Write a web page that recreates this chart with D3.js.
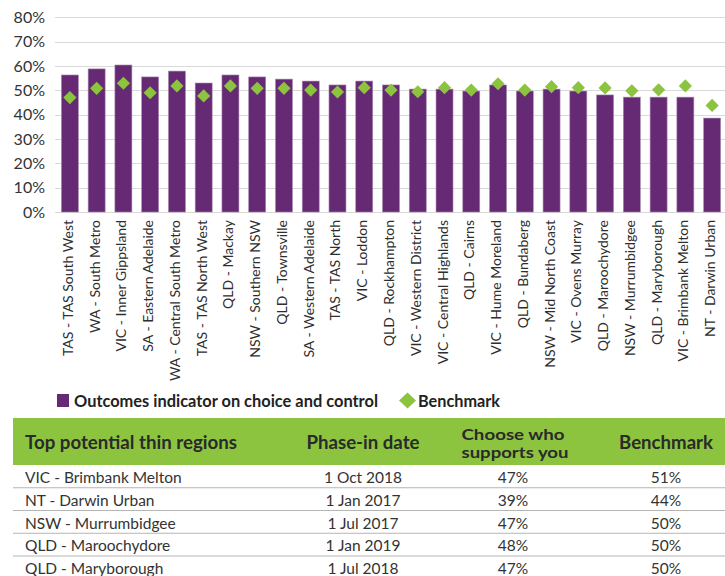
<!DOCTYPE html>
<html>
<head>
<meta charset="utf-8">
<script src="https://cdn.jsdelivr.net/npm/d3@7"></script>
<style>
  html, body { margin: 0; padding: 0; background: #fff; }
  svg { display: block; }
  text { font-family: Lato, "Open Sans", sans-serif; }
</style>
</head>
<body>
<svg id="chart" width="725" height="576"></svg>
<script>
// ---------- DATA ----------
const categories = [
  "TAS - TAS South West", "WA - South Metro", "VIC - Inner Gippsland", "SA - Eastern Adelaide",
  "WA - Central South Metro", "TAS - TAS North West", "QLD - Mackay", "NSW - Southern NSW",
  "QLD - Townsville", "SA - Western Adelaide", "TAS - TAS North", "VIC - Loddon",
  "QLD - Rockhampton", "VIC - Western District", "VIC - Central Highlands", "QLD - Cairns",
  "VIC - Hume Moreland", "QLD - Bundaberg", "NSW - Mid North Coast", "VIC - Ovens Murray",
  "QLD - Maroochydore", "NSW - Murrumbidgee", "QLD - Maryborough", "VIC - Brimbank Melton",
  "NT - Darwin Urban"
];
const indicator = [56.3, 58.8, 60.4, 55.5, 57.9, 53.0, 56.3, 55.5, 54.6, 53.8, 52.2, 53.8, 52.2,
  50.5, 50.5, 49.7, 52.2, 49.7, 50.5, 49.7, 48.1, 47.2, 47.2, 47.2, 38.6];
const benchmark = [47.0, 50.8, 52.9, 49.0, 51.8, 47.7, 51.8, 50.8, 50.8, 50.1, 49.3, 51.1, 50.1,
  49.4, 51.1, 50.1, 52.7, 50.1, 51.5, 51.1, 51.0, 49.8, 50.2, 51.8, 43.8];
const yTicks = [0, 10, 20, 30, 40, 50, 60, 70, 80];

const legendLabels = ["Outcomes indicator on choice and control", "Benchmark"];

const tableHeaders = ["Top potential thin regions", "Phase-in date", "Choose who|supports you", "Benchmark"];
const tableRegions = ["VIC - Brimbank Melton", "NT - Darwin Urban", "NSW - Murrumbidgee", "QLD - Maroochydore", "QLD - Maryborough"];
const tableDates = ["1 Oct 2018", "1 Jan 2017", "1 Jul 2017", "1 Jan 2019", "1 Jul 2018"];
const tableChoose = ["47%", "39%", "47%", "48%", "47%"];
const tableBench = ["51%", "44%", "50%", "50%", "50%"];

// ---------- STYLE ----------
const purple = "#662a74";
const green = "#8cc43f";
const textCol = "#2e2e2e";

const svg = d3.select("#chart");

const x = d3.scaleBand().domain(categories).range([56.5, 725.5]).paddingInner(0.365).paddingOuter(0.1825);
const y = d3.scaleLinear().domain([0, 80]).range([212, 17.3]);

// gridlines
svg.append("g").selectAll("line").data(yTicks).join("line")
  .attr("x1", 55).attr("x2", 725)
  .attr("y1", d => Math.round(y(d)) + 0.5).attr("y2", d => Math.round(y(d)) + 0.5)
  .attr("stroke", "#d9d9d9").attr("stroke-width", 1);

// y axis labels
const yAxis = d3.axisLeft(y).tickValues(yTicks).tickFormat(d => d + "%").tickSize(0).tickPadding(0);
const yg = svg.append("g").attr("transform", "translate(45,0)").call(yAxis);
yg.select(".domain").remove();
yg.selectAll("text").attr("font-size", 16).attr("fill", "#333").attr("font-family", "Lato, sans-serif");

// bars
const data = categories.map((c, i) => ({ c, v: indicator[i], b: benchmark[i] }));
svg.append("g").selectAll("rect").data(data).join("rect")
  .attr("x", d => x(d.c)).attr("width", x.bandwidth())
  .attr("y", d => y(d.v)).attr("height", d => y(0) - y(d.v))
  .attr("fill", purple).attr("stroke", "#a88bb0").attr("stroke-width", 0.6);

// diamonds
const dh = 6.6;
const diamond = `M0,${-dh}L${dh},0L0,${dh}L${-dh},0Z`;
svg.append("g").selectAll("path").data(data).join("path")
  .attr("d", diamond)
  .attr("transform", d => `translate(${x(d.c) + x.bandwidth() / 2},${y(d.b)})`)
  .attr("fill", green);

// category labels
const xAxis = d3.axisBottom(x).tickSize(0).tickPadding(0);
const xg = svg.append("g").attr("transform", "translate(0,220)").call(xAxis);
xg.select(".domain").remove();
xg.selectAll("text")
  .attr("font-size", 14).attr("fill", textCol)
  .attr("text-anchor", "end")
  .attr("dy", null).attr("y", 0)
  .attr("transform", "translate(3,0) rotate(-90)")
  .attr("x", 0)
  .attr("dominant-baseline", "auto");

// legend
const lg = svg.append("g");
lg.append("rect").attr("x", 57).attr("y", 394).attr("width", 12).attr("height", 13).attr("fill", purple);
lg.append("text").attr("x", 74).attr("y", 406.5).text(legendLabels[0])
  .attr("font-size", 17).attr("font-weight", "bold").attr("fill", "#222")
  .attr("textLength", 304).attr("lengthAdjust", "spacingAndGlyphs");
lg.append("path").attr("d", "M0,-8L8.5,0L0,8L-8.5,0Z").attr("transform", "translate(407.5,400.5)").attr("fill", green);
lg.append("text").attr("x", 418).attr("y", 406.5).text(legendLabels[1])
  .attr("font-size", 17).attr("font-weight", "bold").attr("fill", "#222")
  .attr("textLength", 82).attr("lengthAdjust", "spacingAndGlyphs");

// table
const tg = svg.append("g");
tg.append("rect").attr("x", 13).attr("y", 418).attr("width", 712).attr("height", 47).attr("fill", green);
const colX = [25, 363, 513, 666];
const headerW = [212, 113, 105, 94];
tableHeaders.forEach((h, i) => {
  const lines = h.split("|");
  if (lines.length === 1) {
    tg.append("text")
      .attr("font-size", 18).attr("font-weight", "bold").attr("fill", "#2a2a2a")
      .attr("text-anchor", i === 0 ? "start" : "middle")
      .attr("x", colX[i]).attr("y", 449).text(h)
      .attr("textLength", headerW[i]).attr("lengthAdjust", "spacingAndGlyphs");
  } else {
    const lw = [103, 107];
    const ly = [439.5, 458];
    lines.forEach((ln, k) => {
      tg.append("text")
        .attr("font-size", 15).attr("font-weight", "bold").attr("fill", "#2a2a2a")
        .attr("text-anchor", "middle")
        .attr("x", colX[i] + (k === 1 ? 2 : 0)).attr("y", ly[k]).text(ln)
        .attr("textLength", lw[k]).attr("lengthAdjust", "spacingAndGlyphs");
    });
  }
});

const rowH = 22.75;
const rows = tableRegions.map((r, i) => [r, tableDates[i], tableChoose[i], tableBench[i]]);
const rowG = tg.selectAll("g.row").data(rows).join("g").attr("class", "row")
  .attr("transform", (d, i) => `translate(0,${465 + i * rowH})`);
rowG.filter((d, i) => i < rows.length - 1).append("line")
  .attr("x1", 13).attr("x2", 725).attr("y1", rowH).attr("y2", rowH)
  .attr("stroke", "#b5b5b5").attr("stroke-width", 1);
rowG.selectAll("text").data(d => d).join("text")
  .attr("x", (d, j) => colX[j])
  .attr("y", 18)
  .attr("text-anchor", (d, j) => j === 0 ? "start" : "middle")
  .attr("font-size", 15.5).attr("fill", "#333")
  .text(d => d);
</script>
</body>
</html>
